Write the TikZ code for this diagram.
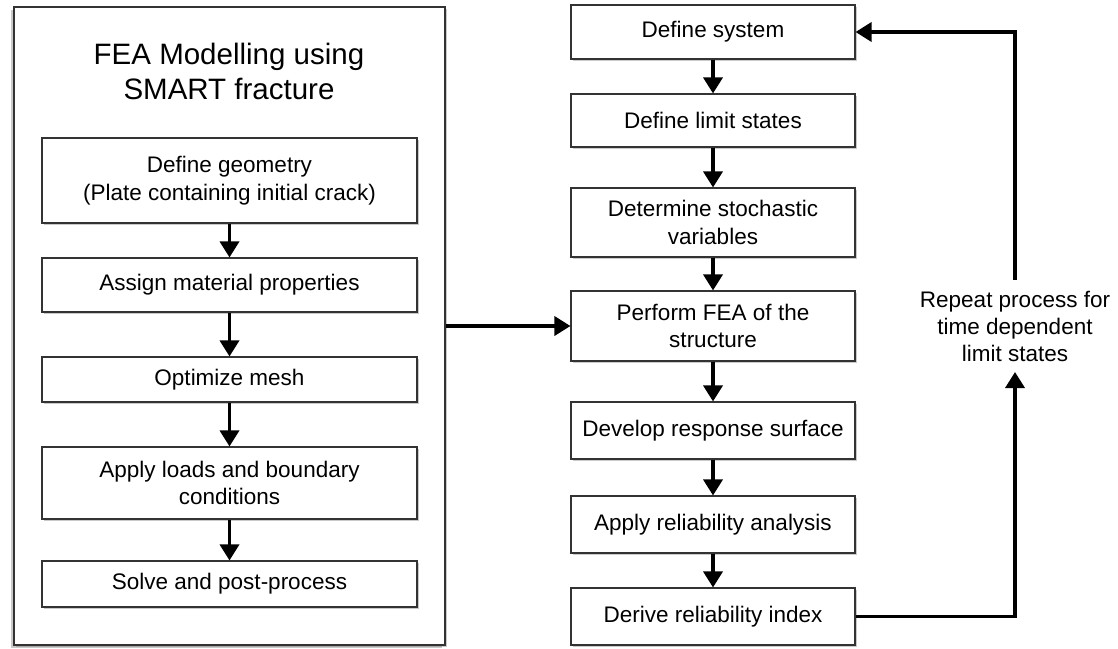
\documentclass[tikz,border=0pt]{standalone}
\usepackage{fontspec}
\setmainfont{Liberation Sans}
\usepackage{tikz}
\usetikzlibrary{arrows.meta,shadows,calc}

\begin{document}
\begin{tikzpicture}[x=1pt,y=-1pt,
	box/.style={draw=black!80, line width=1.1pt, fill=white, align=center,
		inner sep=0pt, font=\fontsize{22.5pt}{27.5pt}\selectfont,
		drop shadow={shadow xshift=2pt, shadow yshift=-2pt, opacity=0.35, fill=black!60}},
	flow/.style={line width=3.5pt, -{Triangle[width=19pt,length=16pt]}}]
	
	\useasboundingbox (0,0) rectangle (1118,648);
	
	\node[box, minimum width=431pt, minimum height=638pt,
		drop shadow={shadow xshift=-3pt, shadow yshift=-3pt, opacity=0.35, fill=black!60}]
		(frame) at (229.5,326) {};
	\node[align=center, font=\fontsize{29.5pt}{35pt}\selectfont] (title) at (229,71)
		{FEA Modelling using\\SMART fracture};
	
	\node[box, minimum width=375pt, minimum height=85pt] (geom) at (229.5,180.5)
		{Define geometry\\(Plate containing initial crack)};
	\node[box, minimum width=375pt, minimum height=54pt] (mat) at (229.5,285)
		{Assign material properties};
	\node[box, minimum width=375pt, minimum height=45pt] (mesh) at (229.5,379.5)
		{Optimize mesh};
	\node[box, minimum width=375pt, minimum height=72pt] (load) at (229.5,483)
		{Apply loads and boundary\\conditions};
	\node[box, minimum width=375pt, minimum height=46pt] (solve) at (229.5,584)
		{Solve and post-process};
	
	\node[box, minimum width=284pt, minimum height=54pt] (sys) at (713,32)
		{Define system};
	\node[box, minimum width=284pt, minimum height=53pt] (lim) at (713,120.5)
		{Define limit states};
	\node[box, minimum width=284pt, minimum height=69pt] (stoch) at (713,222.5)
		{Determine stochastic\\variables};
	\node[box, minimum width=284pt, minimum height=70pt] (fea) at (713,326)
		{Perform FEA of the\\structure};
	\node[box, minimum width=284pt, minimum height=57pt] (surf) at (713,430.5)
		{Develop response surface};
	\node[box, minimum width=284pt, minimum height=57pt] (rel) at (713,524.5)
		{Apply reliability analysis};
	\node[box, minimum width=284pt, minimum height=57pt] (index) at (713,616.5)
		{Derive reliability index};
	
	\node[align=center, font=\fontsize{22.5pt}{27pt}\selectfont] (repeat) at (1015,326)
		{Repeat process for\\time dependent\\limit states};
	\coordinate (looptop) at (1015,280);
	\coordinate (loopbot) at (1015,372);
	
	\draw[flow] (geom) -- (mat);
	\draw[flow] (mat) -- (mesh);
	\draw[flow] (mesh) -- (load);
	\draw[flow] (load) -- (solve);
	
	\draw[flow] (sys) -- (lim);
	\draw[flow] (lim) -- (stoch);
	\draw[flow] (stoch) -- (fea);
	\draw[flow] (fea) -- (surf);
	\draw[flow] (surf) -- (rel);
	\draw[flow] (rel) -- (index);
	
	\draw[flow] (frame.east) -- (fea.west);
	\draw[flow] (index.east) -| (loopbot);
	\draw[flow] (looptop) |- (sys.east);
	
\end{tikzpicture}
\end{document}
